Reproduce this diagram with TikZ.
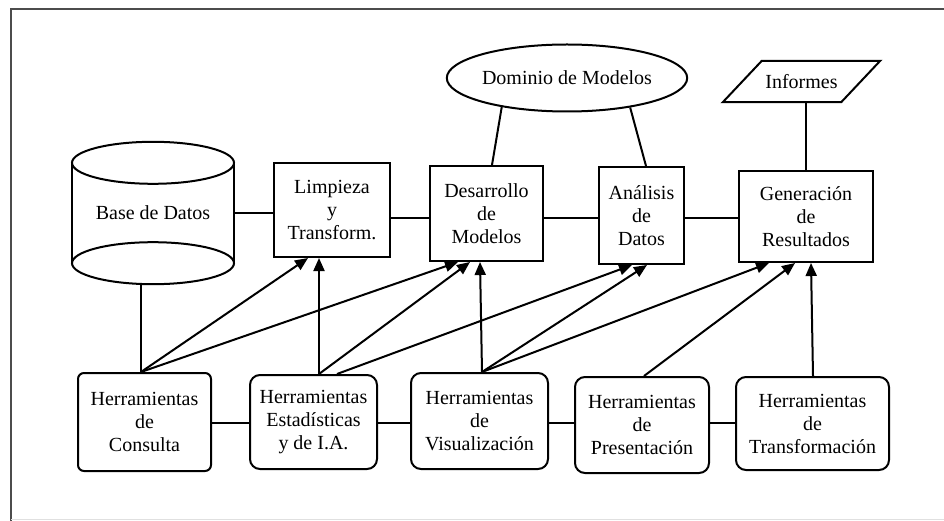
\documentclass[tikz,border=0pt]{standalone}
\usepackage{fontspec}
\setmainfont{Liberation Serif}
\usetikzlibrary{shapes.geometric,arrows.meta}
\begin{document}
\begin{tikzpicture}[x=1pt,y=-1pt,
  txt/.style={align=center,font=\fontsize{20}{23}\selectfont,inner sep=0pt},
  box/.style={txt,draw,line width=2pt},
  rbox/.style={box,rounded corners=10pt},
  conn/.style={line width=2pt},
  arr/.style={line width=2pt,-{Triangle[length=13pt,width=11pt]}},
  frame/.style={draw=black!70,line width=1.5pt}]
\useasboundingbox (0,0) rectangle (944,521);
\draw[frame] (944,9) -- (11,9) -- (11,521);
\draw[draw=black!12,line width=1.5pt] (11,519.5) -- (944,519.5);

% database cylinder
\node[txt,minimum width=162pt,minimum height=142pt] (db) at (153,213) {Base de Datos};
\draw[conn] ([yshift=-21pt]db.north west) -- ([yshift=21pt]db.south west)
  ([yshift=-21pt]db.north east) -- ([yshift=21pt]db.south east);
\draw[conn] ([yshift=-21pt]db.north) ellipse [x radius=81pt, y radius=21pt];
\draw[conn] ([yshift=21pt]db.south) ellipse [x radius=81pt, y radius=21pt];

% top row
\node[box,minimum width=116pt,minimum height=94pt] (limp) at (332,210) {Limpieza\\y\\Transform.};
\node[box,minimum width=113pt,minimum height=95pt] (des) at (486.5,213.5) {Desarrollo\\de\\Modelos};
\node[box,minimum width=85pt,minimum height=97pt] (ana) at (641.5,215.5) {Análisis\\de\\Datos};
\node[box,minimum width=134pt,minimum height=91pt] (gen) at (806,216.5) {Generación\\de\\Resultados};
\node[txt,draw,ellipse,line width=2pt,minimum width=202pt,minimum height=67pt] (dom) at (567,78) {Dominio de Modelos};
\node[txt,minimum width=118pt,minimum height=41pt] (inf) at (801.5,81.5) {Informes};
\draw[conn,line join=miter] ([xshift=19.5pt]inf.north west) -- ([xshift=19.5pt]inf.north east)
  -- ([xshift=-19.5pt]inf.south east) -- ([xshift=-19.5pt]inf.south west) -- cycle;

% top row connectors
\coordinate (r1) at ([yshift=-4.5pt]des.west);
\draw[conn] (db.east) -- (db.east -| limp.west);
\draw[conn] (r1 -| limp.east) -- (r1);
\draw[conn] (r1 -| des.east) -- (r1 -| ana.west);
\draw[conn] (r1 -| ana.east) -- (r1 -| gen.west);
\draw[conn] (dom.204) -- ([xshift=5.5pt]des.north);
\draw[conn] (dom.335) -- ([xshift=4.5pt]ana.north);
\draw[conn] (gen.north |- inf.south) -- (gen.north);

% bottom row
\node[rbox,rounded corners=6pt,minimum width=133pt,minimum height=98pt] (cons) at (144.5,422) {Herramientas\\de\\Consulta};
\node[rbox,minimum width=127pt,minimum height=94pt] (est) at (313.5,422) {Herramientas\\Estadísticas\\y de I.A.};
\node[rbox,minimum width=137pt,minimum height=96pt] (vis) at (479.5,421) {Herramientas\\de\\Visualización};
\node[rbox,minimum width=134pt,minimum height=96pt] (pres) at (642,425) {Herramientas\\de\\Presentación};
\node[rbox,minimum width=153pt,minimum height=93pt] (tra) at (812.5,423.5) {Herramientas\\de\\Transformación};

\coordinate (r2) at (0,423);
\draw[conn] (r2 -| cons.east) -- (r2 -| est.west);
\draw[conn] (r2 -| est.east) -- (r2 -| vis.west);
\draw[conn] (r2 -| vis.east) -- (r2 -| pres.west);
\draw[conn] (r2 -| pres.east) -- (r2 -| tra.west);

% arrows
\coordinate (c1) at ([xshift=-3.5pt]cons.north);
\coordinate (s2a) at ([xshift=5.5pt]est.north);
\coordinate (s2b) at ([xshift=23.5pt]est.north);
\coordinate (s3) at ([xshift=2.5pt]vis.north);
\draw[conn] (c1 |- db.south) -- (c1);
\draw[arr] (c1) -- ([xshift=-24pt]limp.south);
\draw[arr] (c1) -- ([xshift=-28.5pt]des.south);
\draw[arr] (s2a) -- (s2a |- limp.south);
\draw[arr] (s2a) -- ([xshift=-16.5pt]des.south);
\draw[arr] (s2b) -- ([xshift=-9.5pt]ana.south);
\draw[arr] (s3) -- ([xshift=-6.5pt]des.south);
\draw[arr] (s3) -- ([xshift=5.5pt]ana.south);
\draw[arr] (s3) -- ([xshift=-37pt]gen.south);
\draw[arr] ([xshift=2pt]pres.north) -- ([xshift=-11pt]gen.south);
\draw[arr] ([xshift=0.5pt]tra.north) -- ([xshift=5pt]gen.south);
\end{tikzpicture}
\end{document}
